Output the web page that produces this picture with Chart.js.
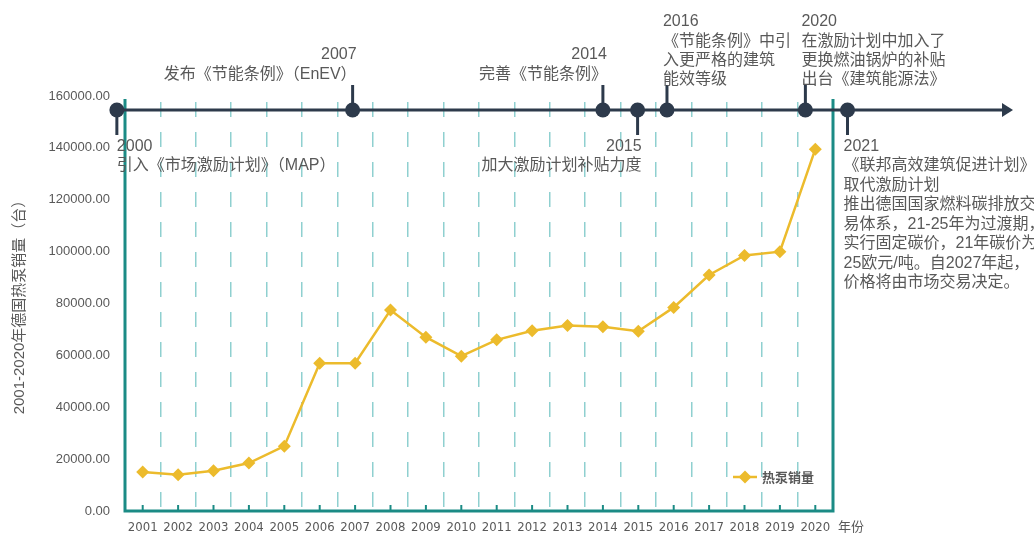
<!DOCTYPE html>
<html lang="zh">
<head>
<meta charset="utf-8">
<title>2001-2020年德国热泵销量</title>
<script src="https://cdn.jsdelivr.net/npm/chart.js@4.4.1/dist/chart.umd.min.js"></script>
<style>
  html, body { margin:0; padding:0; background:#fff; }
  #wrap { width:1034px; height:534px; position:relative; }
</style>
</head>
<body>
<div id="wrap"><canvas id="hpChart"></canvas></div>
<script>
'use strict';

// ── data ──────────────────────────────────────────
const years = ['2001','2002','2003','2004','2005','2006','2007','2008','2009','2010',
               '2011','2012','2013','2014','2015','2016','2017','2018','2019','2020'];
const sales = [15000, 14000, 15500, 18500, 25000, 57000, 57000, 77500, 67000, 59700,
               66000, 69500, 71500, 71000, 69300, 78500, 91000, 98500, 100000, 139500];
const yMax  = 160000;
const yStep = 20000;

const seriesName = '热泵销量';
const yTitle     = '2001-2020年德国热泵销量（台）';
const xUnit      = '年份';

// timeline events (position in category units, 0 = 2001)
const eventYears = ['2000', '2007', '2014', '2015', '2016', '2020', '2021'];
const eventPos   = [-0.73, 5.93, 13.0, 13.98, 14.81, 18.72, 19.91];
const eventUp    = [false, true, true, false, true, true, false];
const eventAlign = ['left', 'right', 'right', 'right', 'left', 'left', 'left'];
const eventText  = [
  ['引入《市场激励计划》（MAP）'],
  ['发布《节能条例》（EnEV）'],
  ['完善《节能条例》'],
  ['加大激励计划补贴力度'],
  ['《节能条例》中引', '入更严格的建筑', '能效等级'],
  ['在激励计划中加入了', '更换燃油锅炉的补贴', '出台《建筑能源法》'],
  ['《联邦高效建筑促进计划》', '取代激励计划', '推出德国国家燃料碳排放交',
   '易体系，21-25年为过渡期，', '实行固定碳价，21年碳价为', '25欧元/吨。自2027年起，',
   '价格将由市场交易决定。']
];

// ── styles ────────────────────────────────────────
const GOLD  = '#ecbb2c';
const TEAL  = '#1b8b85';
const GRID  = '#8fd0d0';
const NAVY  = '#2d3a4b';
const GRAY  = '#595959';
const TXT   = '"Liberation Sans", "Noto Sans CJK SC", sans-serif';
const NARROW = '"Liberation Sans Narrow", "DejaVu Sans Condensed", "Liberation Sans", sans-serif';

const TL_Y = 110;   // timeline baseline

const overlay = {
  id: 'overlay',
  beforeDatasetsDraw(chart) {
    const { ctx, chartArea: a, scales: { x } } = chart;
    ctx.save();
    // small ticks at category centres
    ctx.strokeStyle = TEAL;
    ctx.lineWidth = 2;
    years.forEach((_, i) => {
      const px = x.getPixelForValue(i);
      ctx.beginPath(); ctx.moveTo(px, a.bottom - 6); ctx.lineTo(px, a.bottom); ctx.stroke();
    });
    // frame: left, right, bottom
    ctx.lineWidth = 3;
    ctx.beginPath();
    ctx.moveTo(a.left, a.top + 3); ctx.lineTo(a.left, a.bottom);
    ctx.lineTo(a.right, a.bottom); ctx.lineTo(a.right, a.top + 3);
    ctx.stroke();
    ctx.restore();
  },
  afterDatasetsDraw(chart) {
    const { ctx, chartArea: a, scales: { x } } = chart;
    const step = x.getPixelForValue(1) - x.getPixelForValue(0);
    const x0 = x.getPixelForValue(0);
    ctx.save();

    // timeline
    const firstX = x0 + eventPos[0] * step;
    ctx.strokeStyle = NAVY; ctx.fillStyle = NAVY; ctx.lineWidth = 3;
    ctx.beginPath(); ctx.moveTo(firstX, TL_Y); ctx.lineTo(1006, TL_Y); ctx.stroke();
    ctx.beginPath(); ctx.moveTo(1013, TL_Y); ctx.lineTo(1002, TL_Y - 7); ctx.lineTo(1002, TL_Y + 7); ctx.closePath(); ctx.fill();

    ctx.font = '16px ' + TXT;
    ctx.textBaseline = 'middle';
    eventYears.forEach((yr, i) => {
      const cx = x0 + eventPos[i] * step;
      const up = eventUp[i];
      ctx.strokeStyle = NAVY; ctx.fillStyle = NAVY; ctx.lineWidth = 3;
      ctx.beginPath(); ctx.moveTo(cx, TL_Y); ctx.lineTo(cx, up ? TL_Y - 25 : TL_Y + 25); ctx.stroke();
      ctx.beginPath(); ctx.arc(cx, TL_Y, 7.5, 0, Math.PI * 2); ctx.fill();

      const lines = eventText[i];
      const align = eventAlign[i];
      const tx = i === 0 ? cx : (align === 'left' ? cx - 4 : cx + 4);
      ctx.textAlign = align;
      ctx.fillStyle = GRAY;
      if (up) {
        const last = lines.length > 1 ? 80 : 75;
        const first = last - (lines.length - 1) * 19.3;
        lines.forEach((t, k) => ctx.fillText(t, tx, first + k * 19.3));
        ctx.fillText(yr, tx, first - 20);
      } else {
        ctx.fillText(yr, tx, 147);
        lines.forEach((t, k) => ctx.fillText(t, tx, 166 + k * 19.5));
      }
    });

    // legend
    const lx = a.right - 100, ly = a.bottom - 34;
    ctx.strokeStyle = GOLD; ctx.fillStyle = GOLD; ctx.lineWidth = 2.5;
    ctx.beginPath(); ctx.moveTo(lx, ly); ctx.lineTo(lx + 24, ly); ctx.stroke();
    ctx.beginPath();
    ctx.moveTo(lx + 12, ly - 6.5); ctx.lineTo(lx + 18.5, ly); ctx.lineTo(lx + 12, ly + 6.5); ctx.lineTo(lx + 5.5, ly);
    ctx.closePath(); ctx.fill();
    ctx.fillStyle = GRAY;
    ctx.font = 'bold 13px ' + TXT;
    ctx.textAlign = 'left';
    ctx.fillText(seriesName, lx + 29, ly + 1);

    // x unit
    ctx.font = '13px ' + TXT;
    ctx.fillText(xUnit, a.right + 5, 527);
    ctx.restore();
  }
};

new Chart(document.getElementById('hpChart'), {
  type: 'line',
  data: {
    labels: years,
    datasets: [{
      label: seriesName,
      data: sales,
      borderColor: GOLD,
      backgroundColor: GOLD,
      borderWidth: 2.5,
      tension: 0,
      pointStyle: 'rectRot',
      pointRadius: 6.5,
      pointHoverRadius: 6.5,
      pointBorderWidth: 0,
      clip: false
    }]
  },
  options: {
    responsive: true,
    maintainAspectRatio: false,
    animation: false,
    layout: { padding: { top: 96, right: 201, left: 0, bottom: 0 } },
    plugins: { legend: { display: false }, tooltip: { enabled: false } },
    scales: {
      x: {
        offset: true,
        afterFit: s => { s.height = 23; },
        grid: { offset: true, color: GRID, lineWidth: 1.5, drawTicks: false },
        border: { display: false, dash: [15, 15], dashOffset: 24 },
        ticks: { color: GRAY, font: { family: NARROW, size: 13 }, padding: 9, maxRotation: 0, autoSkip: false }
      },
      y: {
        min: 0, max: yMax,
        afterFit: s => { s.width = 125; },
        grid: { display: false, drawTicks: false },
        border: { display: false },
        ticks: {
          stepSize: yStep, padding: 15, color: GRAY,
          font: { family: TXT, size: 13 },
          callback: v => v.toFixed(2)
        },
        title: { display: true, text: yTitle, color: GRAY, font: { family: TXT, size: 15 }, padding: { top: 11 } }
      }
    }
  },
  plugins: [overlay]
});
</script>
</body>
</html>
